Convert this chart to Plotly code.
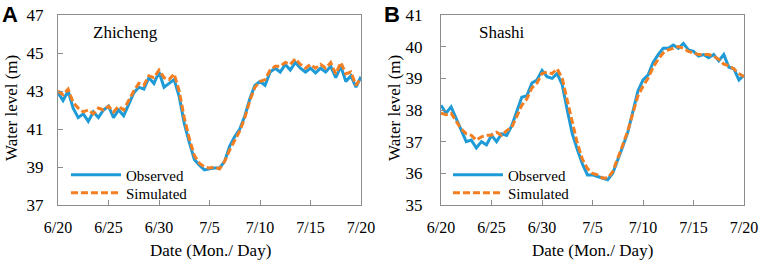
import plotly.graph_objects as go

# ---- data (day offset from 6/20, half-day steps) ----
days = [i * 0.5 for i in range(61)]
tick_days = [0, 5, 10, 15, 20, 25, 30]
tick_labels = ["6/20", "6/25", "6/30", "7/5", "7/10", "7/15", "7/20"]

zhicheng_obs = [42.9, 42.5, 43.0, 42.1, 41.6, 41.8, 41.4, 41.9, 41.6, 42.0,
                42.2, 41.6, 42.0, 41.7, 42.3, 42.9, 43.2, 43.1, 43.7, 43.4,
                44.0, 43.2, 43.4, 43.6, 42.7, 41.3, 40.3, 39.4, 39.1, 38.85,
                38.9, 38.95, 38.95, 39.3, 40.1, 40.6, 41.0, 41.7, 42.6, 43.3,
                43.5, 43.3, 44.0, 44.2, 44.0, 44.4, 44.1, 44.5, 44.2, 44.0,
                44.2, 43.95, 44.2, 44.0, 44.3, 43.7, 44.3, 43.5, 43.8, 43.2,
                43.75]
zhicheng_sim = [43.0, 42.8, 43.1, 42.4, 42.1, 41.9, 42.0, 41.8, 42.1, 42.0,
                42.2, 41.9, 42.2, 42.0, 42.5, 43.0, 43.4, 43.3, 43.8, 43.7,
                44.1, 43.7, 43.6, 43.9, 43.0, 41.6, 40.5, 39.6, 39.2, 39.0,
                38.95, 39.0, 38.9, 39.3, 39.9, 40.4, 40.9, 41.6, 42.5, 43.2,
                43.5, 43.6, 44.1, 44.3, 44.3, 44.5, 44.4, 44.7, 44.4, 44.2,
                44.4, 44.2, 44.4, 44.2, 44.5, 43.9, 44.5, 43.9, 44.0, 43.3,
                43.7]
shashi_obs = [38.15, 37.9, 38.1, 37.75, 37.4, 37.0, 37.05, 36.8, 37.0, 36.9,
              37.2, 37.0, 37.25, 37.2, 37.5, 37.95, 38.4, 38.45, 38.85, 38.95,
              39.25, 39.05, 39.0, 39.15, 38.8, 38.0, 37.25, 36.75, 36.3, 35.95,
              35.95, 35.9, 35.85, 35.8, 36.0, 36.4, 36.85, 37.3, 38.0, 38.6,
              38.95, 39.1, 39.5, 39.75, 39.95, 39.95, 40.05, 39.95, 40.1, 39.9,
              39.85, 39.7, 39.75, 39.65, 39.75, 39.55, 39.75, 39.35, 39.3, 38.95,
              39.1]
shashi_sim = [37.9, 37.85, 37.9, 37.65, 37.4, 37.25, 37.2, 37.05, 37.15, 37.2,
              37.2, 37.3, 37.2, 37.35, 37.45, 37.8, 38.15, 38.35, 38.7, 38.85,
              39.15, 39.2, 39.15, 39.3, 39.0, 38.3, 37.6, 36.95, 36.45, 36.15,
              36.0, 35.95, 35.85, 35.85, 36.05, 36.45, 36.9, 37.35, 37.9, 38.45,
              38.75, 39.0, 39.35, 39.6, 39.8, 39.9, 39.95, 40.0, 39.95, 39.85,
              39.8, 39.75, 39.75, 39.75, 39.7, 39.6, 39.45, 39.4, 39.3, 39.15,
              39.05]

W, H = 761, 261
BLUE = "#1E9BD7"
ORANGE = "#F47E22"
FONT = "Liberation Serif"
SANS = "Liberation Sans"

def px_x(p):
    return p / W

def px_y(p):
    return 1 - p / H

fig = go.Figure()
fig.add_trace(go.Scatter(x=days, y=zhicheng_obs, mode="lines", name="Observed",
                         line=dict(color=BLUE, width=3), xaxis="x", yaxis="y", legend="legend"))
fig.add_trace(go.Scatter(x=days, y=zhicheng_sim, mode="lines", name="Simulated",
                         line=dict(color=ORANGE, width=3, dash="7px,3px"), xaxis="x", yaxis="y", legend="legend3"))
fig.add_trace(go.Scatter(x=days, y=shashi_obs, mode="lines", name="Observed",
                         line=dict(color=BLUE, width=3), xaxis="x2", yaxis="y2", legend="legend2"))
fig.add_trace(go.Scatter(x=days, y=shashi_sim, mode="lines", name="Simulated",
                         line=dict(color=ORANGE, width=3, dash="7px,3px"), xaxis="x2", yaxis="y2", legend="legend4"))

axis_common = dict(showline=True, mirror=True, linecolor="#8c8c8c", linewidth=1,
                   ticks="inside", ticklen=5, tickcolor="#8c8c8c", showgrid=False,
                   zeroline=False, automargin=False,
                   tickfont=dict(family=FONT, size=17, color="black"))

xa = dict(axis_common, range=[0, 30], tickvals=tick_days, ticktext=tick_labels,
          ticklabelstandoff=8, tickfont=dict(family=FONT, size=16, color="black"))
ya = dict(axis_common, ticklabelstandoff=10)

def leg(xp, yp):
    return dict(x=px_x(xp), y=px_y(yp), xanchor="left", yanchor="middle",
                bgcolor="rgba(0,0,0,0)", font=dict(family=FONT, size=15, color="black"),
                itemwidth=50, borderwidth=0)

fig.update_layout(
    template="none",
    width=W, height=H,
    margin=dict(l=0, r=0, t=0, b=0),
    paper_bgcolor="white", plot_bgcolor="white",
    font=dict(family=FONT, size=17, color="black"),
    xaxis=dict(xa, domain=[px_x(58), px_x(361)], anchor="y"),
    yaxis=dict(ya, domain=[px_y(205), px_y(15)], range=[37, 47],
               tickvals=[37, 39, 41, 43, 45, 47], anchor="x"),
    xaxis2=dict(xa, domain=[px_x(441), px_x(744)], anchor="y2"),
    yaxis2=dict(ya, domain=[px_y(205), px_y(15)], range=[35, 41],
                tickvals=[35, 36, 37, 38, 39, 40, 41], anchor="x2", ticklabelstandoff=14),
    legend=leg(66, 175),
    legend3=leg(66, 193),
    legend2=leg(448, 175),
    legend4=leg(448, 193),
    showlegend=True,
)

annots = [
    dict(text="Zhicheng", x=px_x(91), y=px_y(32), xanchor="left", yanchor="middle",
         font=dict(family=FONT, size=17)),
    dict(text="Shashi", x=px_x(477), y=px_y(32), xanchor="left", yanchor="middle",
         font=dict(family=FONT, size=17)),
    dict(text="Water level (m)", x=px_x(12), y=px_y(108), textangle=-90,
         xanchor="center", yanchor="middle", font=dict(family=FONT, size=17)),
    dict(text="Water level (m)", x=px_x(395), y=px_y(108), textangle=-90,
         xanchor="center", yanchor="middle", font=dict(family=FONT, size=17)),
    dict(text="Date (Mon./ Day)", x=px_x(210), y=px_y(250), xanchor="center", yanchor="middle",
         font=dict(family=FONT, size=17)),
    dict(text="Date (Mon./ Day)", x=px_x(592), y=px_y(250), xanchor="center", yanchor="middle",
         font=dict(family=FONT, size=17)),
    dict(text="<b>A</b>", x=px_x(0), y=px_y(0), xanchor="left", yanchor="top",
         font=dict(family=SANS, size=22)),
    dict(text="<b>B</b>", x=px_x(382), y=px_y(0), xanchor="left", yanchor="top",
         font=dict(family=SANS, size=22)),
]
for a in annots:
    a.update(xref="paper", yref="paper", showarrow=False)
fig.update_layout(annotations=annots)

fig.write_html("out.html", config={"displayModeBar": False},
               post_script="document.body.style.margin='0';")
